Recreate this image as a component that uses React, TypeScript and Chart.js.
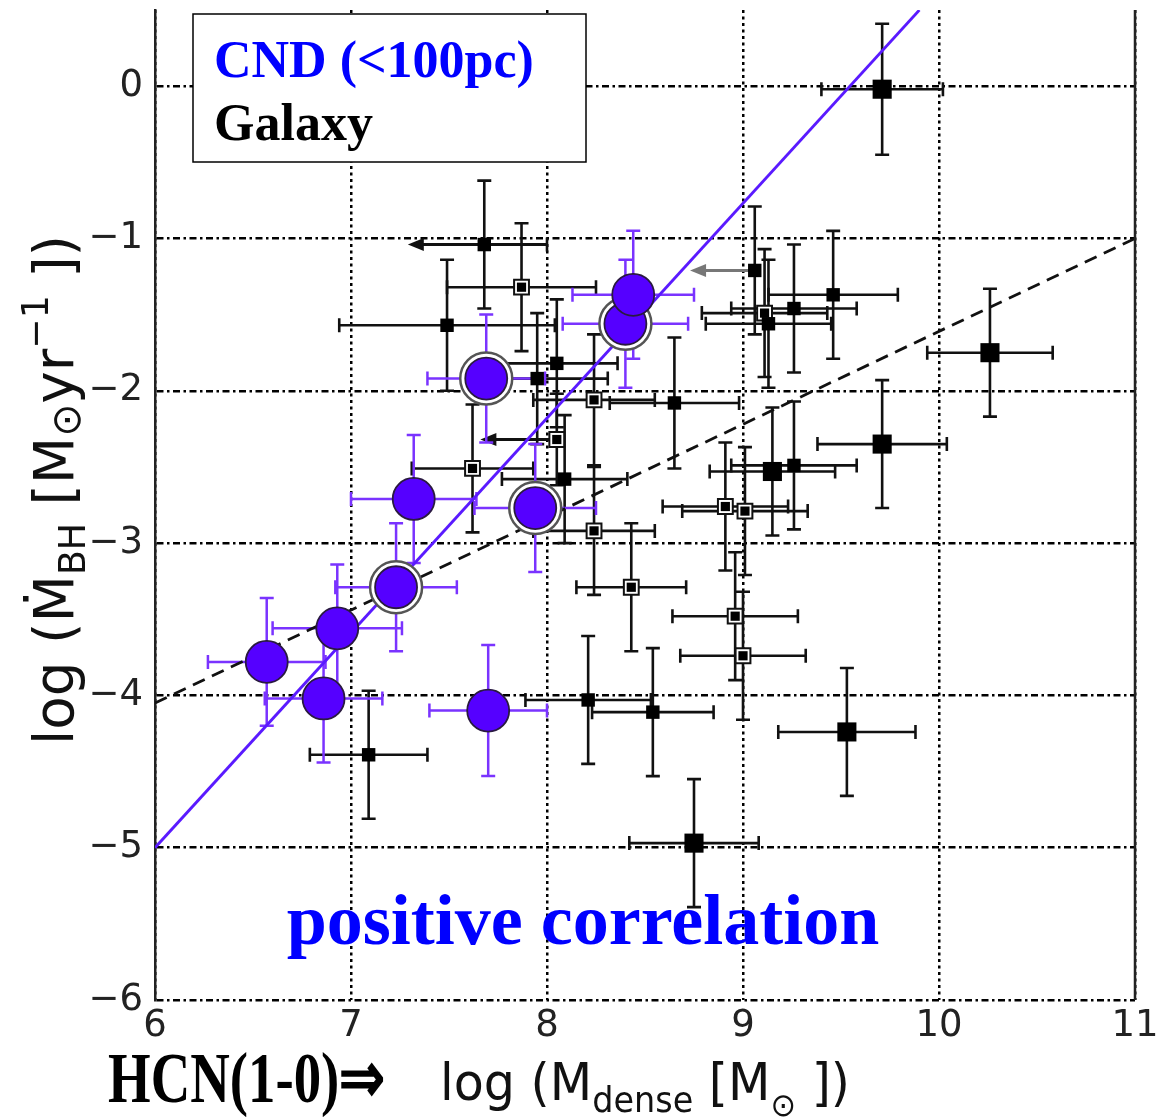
import React, { useEffect, useRef } from 'react';
import { Chart, registerables } from 'chart.js';

Chart.register(...registerables);

// ---------- axes ----------
const xTicks = [6, 7, 8, 9, 10, 11];
const yTicks = [-6, -5, -4, -3, -2, -1, 0];
const xMin = 6;
const xMax = 11;
const yMin = -6;
const yMax = 0.5;

// ---------- CND (<100pc) : purple circles ----------
const cndX = [6.57, 6.86, 6.93, 7.23, 7.32, 7.69, 7.70, 7.94, 8.40, 8.44];
const cndY = [-3.78, -4.02, -3.56, -3.29, -2.71, -1.92, -4.10, -2.77, -1.56, -1.37];
const cndXErr = [0.30, 0.30, 0.33, 0.31, 0.32, 0.30, 0.30, 0.31, 0.32, 0.31];
const cndYErr = [0.42, 0.42, 0.42, 0.42, 0.42, 0.42, 0.43, 0.42, 0.42, 0.42];
const cndRing = [false, false, false, true, false, true, false, true, true, false];

// ---------- Galaxy : black squares ----------
const galX = [9.71, 7.68, 7.87, 7.49, 7.95, 8.05, 8.24, 8.65, 8.05, 7.62, 8.09, 8.24, 8.43, 8.91, 9.01, 9.15, 9.26, 9.71, 8.96, 9.00, 8.54, 9.53, 8.75, 7.09, 8.21, 10.26, 9.46, 9.26, 9.06, 9.11, 9.13];
const galY = [-0.02, -1.04, -1.32, -1.57, -1.92, -1.82, -2.06, -2.08, -2.32, -2.51, -2.58, -2.92, -3.29, -2.76, -2.79, -2.53, -2.49, -2.35, -3.48, -3.74, -4.11, -4.24, -4.97, -4.39, -4.03, -1.75, -1.37, -1.46, -1.21, -1.49, -1.56];
const galXErr = [0.31, 0.32, 0.38, 0.55, 0.36, 0.31, 0.31, 0.33, 0, 0.31, 0.32, 0.31, 0.28, 0.32, 0.32, 0.32, 0.32, 0.33, 0.32, 0.32, 0.31, 0.35, 0.33, 0.30, 0.32, 0.32, 0.33, 0.32, 0, 0.32, 0.32];
const galYErr = [0.43, 0.42, 0.42, 0.43, 0.43, 0.42, 0.43, 0.43, 0.30, 0.42, 0.42, 0.42, 0.42, 0.42, 0.42, 0.42, 0.42, 0.42, 0.42, 0.42, 0.42, 0.42, 0.42, 0.42, 0.42, 0.42, 0.42, 0.42, 0.42, 0.42, 0.42];
const galBig = [true, false, false, false, false, false, false, false, false, false, false, false, false, false, false, true, false, true, false, false, false, true, true, false, false, true, false, false, false, false, false];
const galOpen = [false, false, true, false, false, false, true, false, true, true, false, true, true, true, true, false, false, false, true, true, false, false, false, false, false, false, false, false, false, true, false];
// upper limits in x: arrow tip value (null = none)
const galLimitTip: (number | null)[] = [null, 7.29, null, null, null, null, null, null, 7.66, null, null, null, null, null, null, null, null, null, null, null, null, null, null, null, null, null, null, null, 8.73, null, null];
const galLimitGrey = [false, false, false, false, false, false, false, false, false, false, false, false, false, false, false, false, false, false, false, false, false, false, false, false, false, false, false, false, true, false, false];

// ---------- fit lines ----------
const cndFitX = [6.0, 9.9];
const cndFitY = [-5.0, 0.5];
const galFitX = [6.0, 11.0];
const galFitY = [-4.05, -1.0];

const PURPLE = '#5500ff';
const PURPLE_ERR = '#7a33ff';

const idx = galX.map((_, i) => i);

function pts(sel: number[], xs: number[], ys: number[]) {
  return sel.map((i) => ({ x: xs[i], y: ys[i] }));
}

function drawRich(ctx: CanvasRenderingContext2D, parts: [string, number, number][], size: number, family: string, targetW: number) {
  let total = 0;
  const widths = parts.map((p) => {
    ctx.font = `${size * p[1]}px ${family}`;
    const w = ctx.measureText(p[0]).width;
    total += w;
    return w;
  });
  const sx = targetW / total;
  ctx.save();
  ctx.scale(sx, 1);
  let cx = 0;
  parts.forEach((p, i) => {
    ctx.font = `${size * p[1]}px ${family}`;
    ctx.fillText(p[0], cx, p[2] * size);
    cx += widths[i];
  });
  ctx.restore();
}

const customPlugin = {
  id: 'customDraw',
  beforeDatasetsDraw(chart: any) {
    const { ctx, scales } = chart;
    const xs = scales.x;
    const ys = scales.y;
    const cap = 7;
    ctx.save();
    ctx.lineCap = 'butt';
    // galaxy error bars
    ctx.lineWidth = 2.6;
    idx.forEach((i) => {
      const px = xs.getPixelForValue(galX[i]);
      const py = ys.getPixelForValue(galY[i]);
      ctx.strokeStyle = '#111';
      ctx.fillStyle = '#111';
      const yt = ys.getPixelForValue(galY[i] + galYErr[i]);
      const yb = ys.getPixelForValue(galY[i] - galYErr[i]);
      ctx.beginPath();
      ctx.moveTo(px, yt); ctx.lineTo(px, yb);
      ctx.moveTo(px - cap, yt); ctx.lineTo(px + cap, yt);
      ctx.moveTo(px - cap, yb); ctx.lineTo(px + cap, yb);
      ctx.stroke();
      const tip = galLimitTip[i];
      if (tip !== null) {
        const col = galLimitGrey[i] ? '#777' : '#111';
        ctx.strokeStyle = col;
        ctx.fillStyle = col;
        const tx = xs.getPixelForValue(tip);
        const xr = xs.getPixelForValue(galX[i] + galXErr[i]);
        ctx.lineWidth = 3;
        ctx.beginPath();
        ctx.moveTo(tx + 10, py); ctx.lineTo(xr, py);
        ctx.stroke();
        if (galXErr[i] > 0) {
          ctx.lineWidth = 2.6;
          ctx.beginPath();
          ctx.moveTo(xr, py - cap); ctx.lineTo(xr, py + cap);
          ctx.stroke();
        }
        ctx.beginPath();
        ctx.moveTo(tx, py);
        ctx.lineTo(tx + 16, py - 6.5);
        ctx.lineTo(tx + 16, py + 6.5);
        ctx.closePath();
        ctx.fill();
        ctx.lineWidth = 2.6;
      } else {
        const xl = xs.getPixelForValue(galX[i] - galXErr[i]);
        const xr = xs.getPixelForValue(galX[i] + galXErr[i]);
        ctx.beginPath();
        ctx.moveTo(xl, py); ctx.lineTo(xr, py);
        ctx.moveTo(xl, py - cap); ctx.lineTo(xl, py + cap);
        ctx.moveTo(xr, py - cap); ctx.lineTo(xr, py + cap);
        ctx.stroke();
      }
    });
    // CND error bars
    ctx.strokeStyle = PURPLE_ERR;
    ctx.lineWidth = 2.5;
    cndX.forEach((v, i) => {
      const px = xs.getPixelForValue(v);
      const py = ys.getPixelForValue(cndY[i]);
      const yt = ys.getPixelForValue(cndY[i] + cndYErr[i]);
      const yb = ys.getPixelForValue(cndY[i] - cndYErr[i]);
      const xl = xs.getPixelForValue(v - cndXErr[i]);
      const xr = xs.getPixelForValue(v + cndXErr[i]);
      ctx.beginPath();
      ctx.moveTo(px, yt); ctx.lineTo(px, yb);
      ctx.moveTo(px - cap, yt); ctx.lineTo(px + cap, yt);
      ctx.moveTo(px - cap, yb); ctx.lineTo(px + cap, yb);
      ctx.moveTo(xl, py); ctx.lineTo(xr, py);
      ctx.moveTo(xl, py - cap); ctx.lineTo(xl, py + cap);
      ctx.moveTo(xr, py - cap); ctx.lineTo(xr, py + cap);
      ctx.stroke();
    });
    ctx.restore();
  },
  afterDraw(chart: any) {
    const { ctx, chartArea } = chart;
    ctx.save();
    // right frame line
    ctx.strokeStyle = '#222';
    ctx.lineWidth = 2.5;
    ctx.beginPath();
    ctx.moveTo(chartArea.right, chartArea.top);
    ctx.lineTo(chartArea.right, chartArea.bottom);
    ctx.stroke();

    // legend box
    ctx.fillStyle = '#fff';
    ctx.fillRect(193, 14, 393, 148);
    ctx.strokeStyle = '#000';
    ctx.lineWidth = 1.5;
    ctx.strokeRect(193, 14, 393, 148);
    ctx.textBaseline = 'alphabetic';
    ctx.textAlign = 'left';
    ctx.font = 'bold 52px "Liberation Serif"';
    ctx.fillStyle = '#0000ff';
    ctx.fillText('CND (<100pc)', 214, 77);
    ctx.fillStyle = '#000';
    ctx.fillText('Galaxy', 214, 140);

    // annotation
    ctx.font = 'bold 72px "Liberation Serif"';
    ctx.fillStyle = '#0000ff';
    ctx.textAlign = 'center';
    ctx.fillText('positive correlation', 583, 944);

    // HCN label
    ctx.textAlign = 'left';
    ctx.fillStyle = '#000';
    ctx.save();
    ctx.translate(108, 1102);
    drawRich(ctx, [['HCN(1-0)\u21D2', 1, 0]], 46, 'bold "Liberation Serif"', 277);
    ctx.restore();

    // x title
    ctx.fillStyle = '#111';
    ctx.save();
    ctx.translate(440, 1100);
    drawRich(
      ctx,
      [
        ['log (M', 1, 0],
        ['dense', 0.68, 0.24],
        [' [M', 1, 0],
        ['\u2299', 0.62, 0.3],
        [' ])', 1, 0],
      ],
      52,
      '"DejaVu Sans"',
      410
    );
    ctx.restore();

    // y title
    ctx.save();
    ctx.translate(73, 745);
    ctx.rotate(-Math.PI / 2);
    drawRich(
      ctx,
      [
        ['log (\u1E40', 1, 0],
        ['BH', 0.66, 0.22],
        [' [M', 1, 0],
        ['\u2299', 0.72, 0.12],
        ['yr', 1, 0],
        ['\u22121', 0.66, -0.45],
        [' ])', 1, 0],
      ],
      56,
      '"DejaVu Sans"',
      510
    );
    ctx.restore();
    ctx.restore();
  },
};

export default function App() {
  const ref = useRef<HTMLCanvasElement | null>(null);

  useEffect(() => {
    document.body.style.margin = '0';
    if (!ref.current) return;

    const bigFilled = idx.filter((i) => galBig[i] && !galOpen[i]);
    const smallFilled = idx.filter((i) => !galBig[i] && !galOpen[i]);
    const openSel = idx.filter((i) => galOpen[i]);
    const cndIdx = cndX.map((_, i) => i);
    const ringSel = cndIdx.filter((i) => cndRing[i]);

    const chart = new Chart(ref.current, {
      type: 'scatter',
      data: {
        datasets: [
          {
            type: 'line',
            label: 'CND fit',
            data: cndFitX.map((x, i) => ({ x, y: cndFitY[i] })),
            borderColor: '#5a1aff',
            borderWidth: 2.8,
            pointRadius: 0,
            showLine: true,
            fill: false,
            order: 6,
          } as any,
          {
            type: 'line',
            label: 'Galaxy fit',
            data: galFitX.map((x, i) => ({ x, y: galFitY[i] })),
            borderColor: '#111',
            borderWidth: 2.8,
            borderDash: [13, 8],
            pointRadius: 0,
            showLine: true,
            fill: false,
            order: 6,
          } as any,
          {
            label: 'Galaxy open outer',
            data: pts(openSel, galX, galY),
            pointStyle: 'rect',
            pointRadius: 10.5,
            backgroundColor: '#fff',
            borderColor: '#111',
            borderWidth: 2,
            order: 5,
          },
          {
            label: 'Galaxy open inner',
            data: pts(openSel, galX, galY),
            pointStyle: 'rect',
            pointRadius: 6.5,
            backgroundColor: '#000',
            borderColor: '#000',
            borderWidth: 0,
            order: 4,
          },
          {
            label: 'Galaxy small',
            data: pts(smallFilled, galX, galY),
            pointStyle: 'rect',
            pointRadius: 9.5,
            backgroundColor: '#000',
            borderColor: '#000',
            borderWidth: 0,
            order: 4,
          },
          {
            label: 'Galaxy big',
            data: pts(bigFilled, galX, galY),
            pointStyle: 'rect',
            pointRadius: 13.5,
            backgroundColor: '#000',
            borderColor: '#000',
            borderWidth: 0,
            order: 4,
          },
          {
            label: 'CND ring',
            data: pts(ringSel, cndX, cndY),
            pointStyle: 'circle',
            pointRadius: 26,
            backgroundColor: '#fff',
            borderColor: '#555',
            borderWidth: 2.5,
            order: 2,
          },
          {
            label: 'CND (<100pc)',
            data: pts(cndIdx, cndX, cndY),
            pointStyle: 'circle',
            pointRadius: 21,
            backgroundColor: PURPLE,
            borderColor: '#2a1a40',
            borderWidth: 1.8,
            order: 1,
          },
        ],
      },
      options: {
        animation: false,
        responsive: false,
        maintainAspectRatio: false,
        layout: { autoPadding: false, padding: { top: 10, right: 24, left: 0, bottom: 0 } },
        plugins: {
          legend: { display: false },
          tooltip: { enabled: false },
          title: { display: false },
        },
        scales: {
          x: {
            type: 'linear',
            min: xMin,
            max: xMax,
            afterBuildTicks: (scale: any) => {
              scale.ticks = xTicks.map((v) => ({ value: v }));
            },
            afterFit: (scale: any) => {
              scale.height = 117;
              scale.paddingLeft = 0;
              scale.paddingRight = 0;
            },
            grid: {
              color: '#000',
              lineWidth: 2.5,
              drawTicks: false,
            },
            border: { display: false, dash: [3, 3.5] },
            ticks: {
              color: '#222',
              font: { family: '"DejaVu Sans"', size: 37 },
              padding: 4,
              callback: (v: any) => String(v),
            },
          },
          y: {
            type: 'linear',
            min: yMin,
            max: yMax,
            afterBuildTicks: (scale: any) => {
              scale.ticks = yTicks.map((v) => ({ value: v }));
            },
            afterFit: (scale: any) => {
              scale.width = 155;
              scale.paddingTop = 0;
              scale.paddingBottom = 0;
            },
            grid: {
              color: '#000',
              lineWidth: 2.5,
              drawTicks: false,
            },
            border: { display: true, color: '#222', width: 2.5, dash: [7, 3.5, 2.5, 3.5] },
            ticks: {
              color: '#222',
              font: { family: '"DejaVu Sans"', size: 37 },
              padding: 12,
              callback: (v: any) => (Number(v) < 0 ? '\u2212' + Math.abs(Number(v)) : String(v)),
            },
          },
        },
      },
      plugins: [customPlugin],
    });

    return () => chart.destroy();
  }, []);

  return (
    <div style={{ width: 1159, height: 1117, background: '#fff' }}>
      <canvas ref={ref} width={1159} height={1117} style={{ display: 'block', width: 1159, height: 1117 }} />
    </div>
  );
}
